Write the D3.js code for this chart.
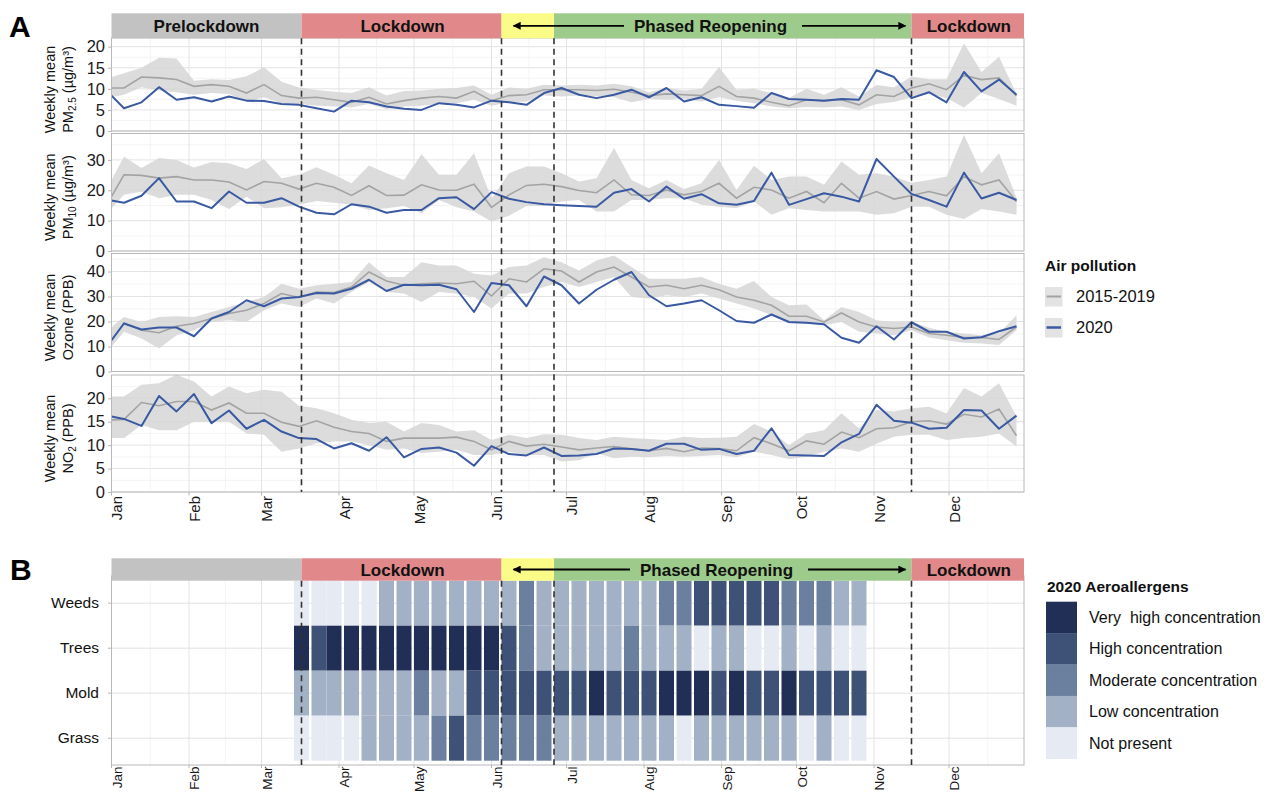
<!DOCTYPE html>
<html><head><meta charset="utf-8">
<script src="https://cdn.jsdelivr.net/npm/d3@7/dist/d3.min.js"></script>
<style>
html,body{margin:0;padding:0;background:#fff;}
svg text{font-family:"Liberation Sans",Arial,Helvetica,sans-serif;}
</style></head><body>
<svg id="chart" width="1270" height="792"></svg>
<script>
// ---------------- DATA ----------------
const weekDates = ["2020-01-01","2020-01-06","2020-01-13","2020-01-20","2020-01-27","2020-02-03","2020-02-10","2020-02-17","2020-02-24","2020-03-02","2020-03-09","2020-03-16","2020-03-23","2020-03-30","2020-04-06","2020-04-13","2020-04-20","2020-04-27","2020-05-04","2020-05-11","2020-05-18","2020-05-25","2020-06-01","2020-06-08","2020-06-15","2020-06-22","2020-06-29","2020-07-06","2020-07-13","2020-07-20","2020-07-27","2020-08-03","2020-08-10","2020-08-17","2020-08-24","2020-08-31","2020-09-07","2020-09-14","2020-09-21","2020-09-28","2020-10-05","2020-10-12","2020-10-19","2020-10-26","2020-11-02","2020-11-09","2020-11-16","2020-11-23","2020-11-30","2020-12-07","2020-12-14","2020-12-21","2020-12-28"];

const pm25_2020 = [8.4,5.4,6.8,10.4,7.4,8.0,7.0,8.2,7.2,7.1,6.4,6.2,5.4,4.6,7.2,6.8,5.8,5.3,5.0,6.6,6.2,5.6,7.2,6.8,6.2,9.0,10.2,8.6,7.8,8.6,9.8,8.0,10.2,7.0,8.0,6.2,5.9,5.5,9.0,7.6,7.4,7.2,7.6,7.4,14.4,12.8,7.8,9.2,6.8,14.0,9.4,12.2,8.6];
const pm25_mean = [10.2,10.2,12.8,12.6,12.2,10.6,11.0,10.6,9.0,11.0,8.4,7.8,8.0,7.4,6.8,8.0,6.4,7.2,7.8,8.2,7.8,9.4,7.2,8.4,8.6,9.8,9.8,9.8,9.6,9.9,9.2,8.4,8.8,8.6,8.4,10.6,8.2,7.8,6.8,6.0,7.4,7.2,7.4,6.2,8.6,8.2,10.2,11.2,9.8,13.2,12.2,12.6,8.4];
const pm25_hi = [12.8,13.7,15.0,17.4,17.2,11.9,12.3,12.1,13.0,15.1,11.7,10.3,9.7,9.3,9.0,10.4,8.4,9.5,9.6,10.0,10.2,10.8,8.6,10.3,10.0,11.0,10.8,11.0,10.8,11.2,10.6,9.2,10.2,9.6,10.0,15.2,9.8,10.0,9.0,7.8,10.0,8.6,10.4,8.2,10.9,10.4,12.9,12.3,12.3,20.8,14.0,17.6,8.8];
const pm25_lo = [8.0,8.6,10.4,9.6,9.2,8.6,9.0,8.8,7.0,8.0,6.6,6.4,6.0,5.8,5.6,6.4,5.2,5.8,6.0,6.4,6.6,7.4,6.0,6.8,7.0,8.4,8.2,8.4,8.2,8.0,6.8,7.6,7.4,7.6,7.0,8.0,7.2,6.6,5.8,5.4,5.7,5.6,5.8,5.0,6.4,6.9,8.0,8.8,7.8,5.6,9.0,7.6,6.0];

const pm10_2020 = [16.6,15.9,18.2,24.0,16.3,16.3,14.1,19.6,15.9,15.9,17.4,14.6,12.6,12.1,15.4,14.6,12.6,13.5,13.5,17.4,17.7,13.8,19.4,17.2,16.1,15.4,15.1,14.8,14.6,19.2,20.4,16.3,21.2,17.2,18.7,15.7,15.2,16.5,25.8,15.2,17.1,19.0,17.9,16.3,30.3,24.5,18.8,16.8,14.6,25.8,17.3,19.2,16.8];
const pm10_mean = [17.9,25.1,24.9,24.0,24.5,23.4,23.4,22.7,20.1,22.9,22.3,20.4,22.3,21.0,18.3,21.5,18.3,18.4,21.8,20.1,20.0,22.0,14.4,18.5,21.6,22.0,21.2,19.9,19.2,23.4,18.5,18.3,20.1,18.5,19.6,22.3,17.4,21.0,20.1,17.4,19.6,15.9,22.3,17.4,19.6,17.1,18.3,19.6,18.2,24.5,21.8,23.4,16.3];
const pm10_hi = [23.4,31.1,27.3,30.6,30.0,27.5,29.3,28.9,27.0,30.3,24.0,25.1,27.6,25.1,22.3,28.2,25.6,23.4,31.9,25.1,25.1,32.2,17.4,25.6,27.8,27.8,25.6,22.9,24.0,33.9,23.4,20.7,23.4,20.4,22.3,30.0,20.1,28.1,23.4,24.5,24.5,21.8,29.5,25.1,25.6,24.5,22.5,23.4,24.5,38.3,25.6,32.2,17.5];
const pm10_lo = [14.1,18.5,19.5,17.4,18.5,18.5,16.8,13.8,17.9,14.1,14.4,15.2,16.5,15.9,15.2,13.5,14.1,14.8,12.4,16.8,14.4,13.0,9.7,11.6,14.8,14.9,16.3,16.8,13.0,13.0,16.8,16.8,17.4,17.4,15.2,14.6,14.1,16.3,11.9,14.1,13.5,13.0,13.0,13.0,11.9,12.4,14.6,14.6,11.9,10.5,13.8,13.0,11.9];

const oz_2020 = [12.5,19.2,16.8,17.6,17.6,14.1,21.2,23.8,28.5,26.1,29.2,29.8,31.4,31.2,33.1,36.7,32.2,34.7,34.5,34.7,32.9,23.8,35.4,34.5,26.1,38.0,34.5,27.2,32.7,36.7,39.8,30.5,26.1,27.2,28.5,24.5,20.2,19.5,22.8,19.8,19.5,18.9,13.5,11.5,18.1,12.8,19.7,15.9,15.9,13.2,13.7,16.1,18.1];
const oz_mean = [12.5,19.4,16.5,15.5,18.1,19.2,21.2,23.2,24.5,27.2,31.2,29.6,31.8,31.6,33.8,39.8,36.2,34.5,35.1,35.4,35.1,36.1,30.2,37.1,35.8,41.1,40.2,35.8,39.8,41.8,37.8,33.8,34.5,33.1,34.5,32.7,29.8,28.5,26.5,22.1,22.1,19.8,23.4,19.8,17.8,17.2,17.8,15.2,14.5,13.6,13.6,12.8,17.8];
const oz_hi = [17.8,21.8,19.8,21.8,22.1,21.8,23.8,25.8,27.8,29.8,35.1,33.1,34.5,35.1,35.8,43.7,37.8,37.8,43.7,42.4,42.4,39.1,38.4,41.8,42.4,45.7,43.7,40.4,44.4,46.4,41.8,37.1,37.1,37.1,37.8,35.1,33.1,36.2,29.8,26.5,26.8,20.5,25.8,23.8,20.5,19.8,20.0,17.5,15.9,15.2,14.5,15.2,22.5];
const oz_lo = [9.9,15.9,13.2,9.2,14.5,16.5,19.8,20.5,19.8,24.5,27.2,25.8,29.2,27.2,31.8,35.8,31.8,31.2,27.8,31.8,31.2,29.8,25.2,31.2,31.2,33.8,35.8,33.8,35.8,37.8,29.8,29.2,30.5,29.8,31.2,29.2,27.2,25.2,22.5,19.2,19.2,18.5,19.8,15.9,15.2,14.5,16.5,13.6,12.5,11.5,11.2,10.6,16.5];

const no2_2020 = [16.1,15.6,14.1,20.5,17.2,20.9,14.7,17.4,13.5,15.4,12.9,11.5,11.3,9.3,10.4,8.8,11.7,7.4,9.2,9.5,8.4,5.6,9.8,8.1,7.8,9.5,7.7,7.8,8.1,9.3,9.2,8.8,10.3,10.3,9.0,9.2,8.1,8.8,13.6,7.9,7.8,7.7,10.6,12.4,18.6,15.2,14.8,13.5,13.7,17.5,17.4,13.5,16.3];
const no2_mean = [15.4,15.5,19.1,18.4,19.3,19.3,17.5,19.0,16.8,16.8,14.9,14.0,15.2,13.8,12.9,12.5,10.8,11.5,11.5,11.5,11.7,10.8,9.0,10.8,9.8,10.2,9.6,9.0,9.4,9.7,9.2,8.8,9.3,8.6,9.4,9.3,8.8,11.6,10.3,8.8,10.9,10.2,12.8,11.6,13.5,13.7,15.0,15.2,14.5,16.6,16.0,17.7,12.0];
const no2_hi = [20.4,20.4,22.9,23.2,25.0,23.6,20.4,22.5,21.1,21.8,21.4,18.4,17.9,16.8,15.4,14.7,15.0,12.9,14.7,14.3,12.9,13.2,11.1,12.2,11.5,12.3,12.2,11.5,11.1,11.8,11.5,11.3,11.1,11.8,11.5,11.6,11.8,14.5,12.9,10.0,12.5,13.2,16.8,13.6,17.5,17.2,17.9,18.2,16.8,22.2,20.4,23.2,16.1];
const no2_lo = [11.5,11.5,14.3,13.2,13.2,15.0,15.0,15.0,12.5,12.2,8.6,9.3,10.4,10.8,10.8,10.0,9.0,9.3,8.3,8.6,9.0,7.9,7.9,8.6,7.9,7.9,6.5,6.8,8.3,7.2,7.5,7.4,7.7,7.5,7.7,7.9,7.4,8.6,7.9,7.0,7.5,8.6,9.3,8.6,10.3,11.8,12.2,12.2,11.1,11.5,11.8,12.5,9.7];

const pm25_ticks = [0,5,10,15,20];
const pm10_ticks = [0,10,20,30];
const oz_ticks = [0,10,20,30,40];
const no2_ticks = [0,5,10,15,20];

// phases
const phaseStarts = ["2020-01-01","2020-03-17","2020-06-05","2020-06-26","2020-11-16"];
const phaseEnds   = ["2020-03-17","2020-06-05","2020-06-26","2020-11-16","2020-12-31"];
const phaseColors = ["#c2c2c2","#e1888a","#fbfb88","#9dcb8b","#e1888a"];
const phaseLabelsA = ["Prelockdown","Lockdown","","","Lockdown"];
const phaseLabelsB = ["","Lockdown","","","Lockdown"];
const phaseLines = ["2020-03-17","2020-06-05","2020-06-26","2020-11-16"];

// aeroallergens
const allergenRows = ["Weeds","Trees","Mold","Grass"];
const allergenDates = ["2020-03-17","2020-03-24","2020-03-30","2020-04-06","2020-04-13","2020-04-20","2020-04-27","2020-05-04","2020-05-11","2020-05-18","2020-05-25","2020-06-01","2020-06-08","2020-06-15","2020-06-22","2020-06-29","2020-07-06","2020-07-13","2020-07-20","2020-07-27","2020-08-03","2020-08-10","2020-08-17","2020-08-24","2020-08-31","2020-09-07","2020-09-14","2020-09-21","2020-09-28","2020-10-05","2020-10-12","2020-10-19","2020-10-26"];
const weeds = [0,0,0,0,0,1,1,1,1,1,1,1,1,2,1,1,1,1,1,1,1,2,2,3,3,3,3,3,2,2,2,1,1];
const trees = [4,3,4,4,4,4,4,4,4,4,4,4,3,2,1,1,1,1,1,2,1,1,1,0,1,1,0,0,1,0,1,0,0];
const mold  = [1,1,1,1,1,1,1,2,1,1,3,3,3,3,3,3,3,4,3,3,3,4,4,4,3,4,3,3,4,3,3,3,3];
const grass = [0,0,0,0,1,1,1,1,2,3,2,2,2,2,2,1,1,1,1,1,1,1,0,1,1,1,1,1,1,0,1,0,0];
const levelLabels = ["Very  high concentration","High concentration","Moderate concentration","Low concentration","Not present"];
const levelColors = ["#212e55","#3e5176","#6b7f9f","#a3b1c6","#e5eaf3"];

// ---------------- DRAW ----------------
const parse = d3.timeParse("%Y-%m-%d");
const svg = d3.select("#chart");
const x = d3.scaleTime().domain([parse("2020-01-01"), parse("2020-12-31")]).range([111.5, 1024]);
const X0 = x.range()[0], X1 = x.range()[1];
const months = d3.timeMonth.range(parse("2020-01-01"), parse("2021-01-01"));
const monthMinor = months.map((m,i)=>{
  const nx = i<11 ? months[i+1] : parse("2021-01-01");
  return new Date((m.getTime()+nx.getTime())/2);
});
const dates = weekDates.map(parse);

const defs = svg.append("defs");
defs.append("marker").attr("id","ah").attr("viewBox","0 0 10 10").attr("refX",9).attr("refY",5)
  .attr("markerWidth",9).attr("markerHeight",8).attr("markerUnits","userSpaceOnUse").attr("orient","auto")
  .append("path").attr("d","M0,0L10,5L0,10z").attr("fill","#000");

const GRID_MAJ = "#e3e3e3", GRID_MIN = "#f1f1f1", BORDER = "#b8b8b8";

function vGrid(g, y0, y1){
  g.selectAll(null).data(monthMinor).enter().append("line")
    .attr("x1",d=>x(d)).attr("x2",d=>x(d)).attr("y1",y0).attr("y2",y1)
    .attr("stroke",GRID_MIN).attr("stroke-width",0.8);
  g.selectAll(null).data(months).enter().append("line")
    .attr("x1",d=>x(d)).attr("x2",d=>x(d)).attr("y1",y0).attr("y2",y1)
    .attr("stroke",GRID_MAJ).attr("stroke-width",1);
}

function banner(y0, y1, labels, phasedOffset){
  const g = svg.append("g");
  phaseStarts.forEach((s,i)=>{
    g.append("rect").attr("x",x(parse(s))).attr("y",y0)
      .attr("width",x(parse(phaseEnds[i]))-x(parse(s))).attr("height",y1-y0)
      .attr("fill",phaseColors[i]);
  });
  const cy = (y0+y1)/2;
  labels.forEach((l,i)=>{
    if(!l) return;
    g.append("text").attr("x",(x(parse(phaseStarts[i]))+x(parse(phaseEnds[i])))/2 + (i===0?0:1))
      .attr("y",cy).attr("dy","0.36em").attr("text-anchor","middle")
      .attr("font-size",17).attr("font-weight","bold").attr("fill","#111").text(l);
  });
  const ps = x(parse(phaseStarts[2])), pe = x(parse(phaseEnds[3]));
  const tc = (ps+pe)/2 + phasedOffset;
  const t = g.append("text").attr("x",tc).attr("y",cy).attr("dy","0.36em").attr("text-anchor","middle")
    .attr("font-size",17).attr("font-weight","bold").attr("fill","#111").text("Phased Reopening");
  const w = t.node().getComputedTextLength();
  g.append("line").attr("x1",tc-w/2-10).attr("x2",ps+12).attr("y1",cy).attr("y2",cy)
    .attr("stroke","#000").attr("stroke-width",1.8).attr("marker-end","url(#ah)");
  g.append("line").attr("x1",tc+w/2+15).attr("x2",pe-6).attr("y1",cy).attr("y2",cy)
    .attr("stroke","#000").attr("stroke-width",1.8).attr("marker-end","url(#ah)");
}

// ----- Panel A -----
const panels = [
  {top:38, bottom:131, max:22.06, ticks:pm25_ticks, v:pm25_2020, m:pm25_mean, lo:pm25_lo, hi:pm25_hi, sub:"2.5", pre:"PM", post:" (\u00b5g/m\u00b3)"},
  {top:133.5, bottom:251, max:38.7, ticks:pm10_ticks, v:pm10_2020, m:pm10_mean, lo:pm10_lo, hi:pm10_hi, sub:"10", pre:"PM", post:" (\u00b5g/m\u00b3)"},
  {top:253.5, bottom:371.5, max:47.2, ticks:oz_ticks, v:oz_2020, m:oz_mean, lo:oz_lo, hi:oz_hi, sub:"", pre:"Ozone (PPB)", post:""},
  {top:375, bottom:492, max:24.97, ticks:no2_ticks, v:no2_2020, m:no2_mean, lo:no2_lo, hi:no2_hi, sub:"2", pre:"NO", post:" (PPB)"}
];

panels.forEach(p=>{
  const y = d3.scaleLinear().domain([0,p.max]).range([p.bottom,p.top]);
  const g = svg.append("g");
  g.append("rect").attr("x",X0).attr("y",p.top).attr("width",X1-X0).attr("height",p.bottom-p.top).attr("fill","#fff");
  const step = p.ticks[1]-p.ticks[0];
  const minor = p.ticks.map(t=>t+step/2).filter(t=>t<p.max);
  g.selectAll(null).data(minor).enter().append("line")
    .attr("x1",X0).attr("x2",X1).attr("y1",d=>y(d)).attr("y2",d=>y(d)).attr("stroke",GRID_MIN).attr("stroke-width",0.8);
  g.selectAll(null).data(p.ticks).enter().append("line")
    .attr("x1",X0).attr("x2",X1).attr("y1",d=>y(d)).attr("y2",d=>y(d)).attr("stroke",GRID_MAJ).attr("stroke-width",1);
  vGrid(g, p.top, p.bottom);
  const rows = dates.map((d,i)=>({d, v:p.v[i], m:p.m[i], lo:p.lo[i], hi:p.hi[i]}));
  g.append("path").datum(rows).attr("fill","#d6d6d6").attr("fill-opacity",0.85)
    .attr("d",d3.area().x(d=>x(d.d)).y0(d=>y(d.lo)).y1(d=>y(d.hi)));
  g.append("path").datum(rows).attr("fill","none").attr("stroke","#a3a3a3").attr("stroke-width",1.6)
    .attr("d",d3.line().x(d=>x(d.d)).y(d=>y(d.m)));
  g.append("path").datum(rows).attr("fill","none").attr("stroke","#3a59a3").attr("stroke-width",2)
    .attr("stroke-linejoin","round").attr("d",d3.line().x(d=>x(d.d)).y(d=>y(d.v)));
  g.append("rect").attr("x",X0).attr("y",p.top).attr("width",X1-X0).attr("height",p.bottom-p.top)
    .attr("fill","none").attr("stroke",BORDER).attr("stroke-width",1);
  const ax = svg.append("g").attr("transform",`translate(${X0},0)`)
    .call(d3.axisLeft(y).tickValues(p.ticks).tickSize(3.5).tickPadding(3));
  ax.select(".domain").remove();
  ax.selectAll(".tick line").attr("stroke",BORDER);
  ax.selectAll(".tick text").attr("font-size",16.5).attr("fill","#1a1a1a")
    .attr("font-family","'Liberation Sans',Arial,sans-serif");
  const cy = (p.top+p.bottom)/2 + 5;
  svg.append("text").attr("transform",`translate(55,${cy}) rotate(-90)`).attr("text-anchor","middle")
    .attr("font-size",14.5).attr("fill","#111").text("Weekly mean");
  const t2 = svg.append("text").attr("transform",`translate(72.5,${cy}) rotate(-90)`).attr("text-anchor","middle")
    .attr("font-size",14.5).attr("fill","#111");
  t2.append("tspan").text(p.pre);
  if(p.sub){ t2.append("tspan").attr("font-size",10).attr("dy",3).text(p.sub);
             t2.append("tspan").attr("dy",-3).text(p.post); }
});

svg.append("g").selectAll("text").data(months).enter().append("text")
  .attr("transform",d=>`translate(${x(d)+5.5},496) rotate(-90)`).attr("text-anchor","end")
  .attr("dy","0.35em").attr("font-size",15).attr("fill","#1a1a1a").text(d3.timeFormat("%b"));
svg.append("g").selectAll("line").data(months).enter().append("line")
  .attr("x1",d=>x(d)).attr("x2",d=>x(d)).attr("y1",492).attr("y2",495.5).attr("stroke",BORDER);

banner(13.3, 38.3, phaseLabelsA, 4);

svg.append("g").selectAll("line").data(phaseLines).enter().append("line")
  .attr("x1",d=>x(parse(d))).attr("x2",d=>x(parse(d))).attr("y1",38.3).attr("y2",492)
  .attr("stroke","#333").attr("stroke-width",1.6).attr("stroke-dasharray","6,4.5");

// ----- Panel B -----
const bTop = 576, bBottom = 765;
const yb = d3.scaleBand().domain(allergenRows).range([580.7, 760.7]).padding(0);
const gb = svg.append("g");
gb.append("rect").attr("x",X0).attr("y",bTop).attr("width",X1-X0).attr("height",bBottom-bTop).attr("fill","#fff");
vGrid(gb, bTop, bBottom);
gb.selectAll(null).data(allergenRows).enter().append("line")
  .attr("x1",X0).attr("x2",X1).attr("y1",d=>yb(d)+yb.bandwidth()/2).attr("y2",d=>yb(d)+yb.bandwidth()/2)
  .attr("stroke",GRID_MAJ);
const heatSeries = {Weeds:weeds, Trees:trees, Mold:mold, Grass:grass};
const color = d3.scaleOrdinal().domain([4,3,2,1,0]).range(levelColors);
allergenRows.forEach(r=>{
  gb.selectAll(null).data(allergenDates.map((d,i)=>({d:parse(d), v:heatSeries[r][i]}))).enter().append("rect")
    .attr("x",d=>x(d3.timeDay.offset(d.d,-3))).attr("width",d=>x(d3.timeDay.offset(d.d,3))-x(d3.timeDay.offset(d.d,-3)))
    .attr("y",yb(r)).attr("height",yb.bandwidth()).attr("fill",d=>color(d.v));
});
gb.append("rect").attr("x",X0).attr("y",bTop).attr("width",X1-X0).attr("height",bBottom-bTop)
  .attr("fill","none").attr("stroke",BORDER);
banner(558.3, 580.7, phaseLabelsB, 10);
svg.append("g").selectAll("line").data(phaseLines).enter().append("line")
  .attr("x1",d=>x(parse(d))).attr("x2",d=>x(parse(d))).attr("y1",580.7).attr("y2",bBottom)
  .attr("stroke","#333").attr("stroke-width",1.6).attr("stroke-dasharray","6,4.5");
const ayb = svg.append("g").attr("transform",`translate(${X0},0)`).call(d3.axisLeft(yb).tickSize(3.5).tickPadding(9));
ayb.select(".domain").remove();
ayb.selectAll(".tick line").attr("stroke",BORDER);
ayb.selectAll(".tick text").attr("font-size",15.5).attr("fill","#111").attr("font-family","'Liberation Sans',Arial,sans-serif");
svg.append("g").selectAll("text").data(months).enter().append("text")
  .attr("transform",d=>`translate(${x(d)+5.5},766.5) rotate(-90)`).attr("text-anchor","end")
  .attr("dy","0.35em").attr("font-size",13.5).attr("fill","#1a1a1a").text(d3.timeFormat("%b"));
svg.append("g").selectAll("line").data(months).enter().append("line")
  .attr("x1",d=>x(d)).attr("x2",d=>x(d)).attr("y1",bBottom).attr("y2",bBottom+3).attr("stroke",BORDER);

svg.append("text").attr("x",9).attr("y",37).attr("font-size",30).attr("font-weight","bold").text("A");
svg.append("text").attr("x",10).attr("y",580).attr("font-size",30).attr("font-weight","bold").text("B");

const lgA = svg.append("g");
lgA.append("text").attr("x",1045).attr("y",271).attr("font-size",15.5).attr("font-weight","bold").attr("fill","#111").text("Air pollution");
const legA = [{label:"2015-2019", color:"#a3a3a3", w:2}, {label:"2020", color:"#3a59a3", w:2.5}];
legA.forEach((d,i)=>{
  const yy = 287 + i*31;
  lgA.append("rect").attr("x",1045).attr("y",yy).attr("width",17.5).attr("height",19.5).attr("fill","#e3e3e3");
  lgA.append("line").attr("x1",1046.5).attr("x2",1061).attr("y1",yy+9.5).attr("y2",yy+9.5).attr("stroke",d.color).attr("stroke-width",d.w);
  lgA.append("text").attr("x",1076).attr("y",yy+9.5).attr("dy","0.36em").attr("font-size",16.5).attr("fill","#111").text(d.label);
});

const lgB = svg.append("g");
lgB.append("text").attr("x",1047).attr("y",592).attr("font-size",15.5).attr("font-weight","bold").attr("fill","#111").text("2020 Aeroallergens");
levelLabels.forEach((l,i)=>{
  const yy = 601.7 + i*31.4;
  lgB.append("rect").attr("x",1046).attr("y",yy).attr("width",31).attr("height",31.6).attr("fill",levelColors[i]);
  lgB.append("text").attr("x",1089).attr("y",yy+15.5).attr("dy","0.36em").attr("font-size",16).attr("fill","#111")
    .style("white-space","pre").text(l);
});
</script>
</body></html>
